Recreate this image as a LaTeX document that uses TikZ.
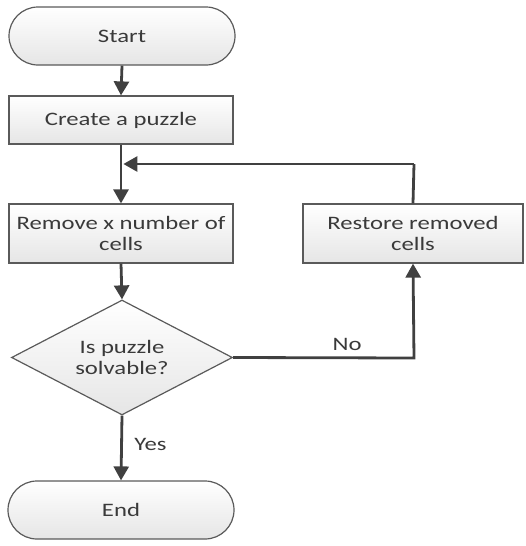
\documentclass[tikz,border=0pt]{standalone}
\usepackage{fontspec}
\setmainfont{Carlito}[FakeStretch=1.3]
\usetikzlibrary{arrows.meta,shapes.geometric}
\definecolor{linegray}{HTML}{404040}
\definecolor{bordergray}{HTML}{5A5A5A}
\definecolor{txtgray}{HTML}{3A3A3A}
\tikzset{
  box/.style={draw=bordergray, line width=1.2pt, top color=white, bottom color=black!10,
    minimum width=224pt, minimum height=49pt, inner sep=2pt, align=center,
    text=txtgray, font=\fontsize{19}{21}\selectfont},
  terminal/.style={box, rounded corners=29pt, minimum width=226pt, minimum height=58pt},
  decision/.style={diamond, aspect=1.92, draw=bordergray, line width=1.2pt,
    top color=white, bottom color=black!10, minimum width=221pt, minimum height=115pt,
    inner sep=0pt, align=center, text=txtgray, font=\fontsize{19}{21}\selectfont},
  flow/.style={draw=linegray, line width=2.8pt, -{Triangle[width=15pt,length=14pt]}},
  plain/.style={draw=linegray, line width=2.8pt},
  lbl/.style={text=txtgray, font=\fontsize{19}{21}\selectfont}
}
\begin{document}
\begin{tikzpicture}[x=1pt,y=-1pt]
\useasboundingbox (0,0) rectangle (525,546);
\node[terminal] (start) at (122,36) {Start};
\node[box, minimum height=48pt] (create) at (121,120) {Create a puzzle};
\node[box, minimum height=59pt] (remove) at (121,233.5) {Remove x number of\\cells};
\node[box, minimum width=220pt, minimum height=59pt] (restore) at (413,233.5) {Restore removed\\cells};
\node[decision] (dec) at (122,357.5) {Is puzzle\\solvable?};
\node[terminal] (end) at (121,510) {End};
\coordinate (join) at (122,164);
\coordinate (cornerNo) at (414,358);
\coordinate (cornerTop) at (414,164);
\draw[flow] (start.south) -- (create.north);
\draw[flow] (create.south) -- (remove.north);
\draw[flow] (remove.south) -- (dec.north);
\draw[flow] (dec.south) -- node[lbl, right=8pt, pos=0.45] (yes) {Yes} (end.north);
\draw[flow] (dec.east) -- node[lbl, above=2pt, pos=0.63] (no) {No} (cornerNo) -- (restore.south);
\draw[plain] (restore.north) -- (cornerTop);
\draw[flow] (cornerTop) -- ([xshift=1.4pt]join);
\end{tikzpicture}
\end{document}
